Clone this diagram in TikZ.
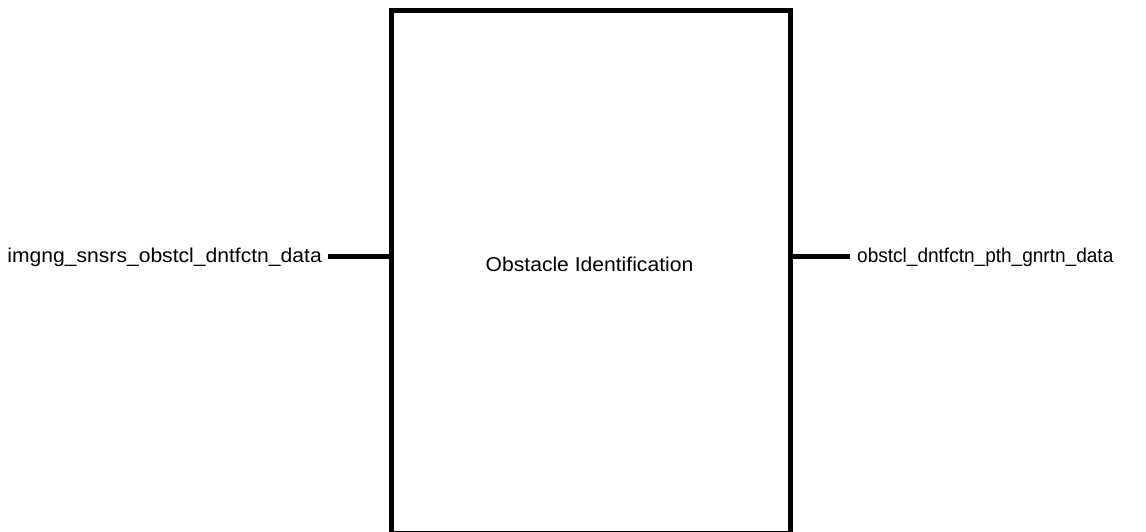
\documentclass[tikz,border=0pt]{standalone}
\usepackage{fontspec}
\setmainfont{Liberation Sans}
\begin{document}
\begin{tikzpicture}[x=1pt,y=-1pt,
  blockbox/.style={draw=black, line width=5pt, inner sep=0pt, minimum width=398.5pt, minimum height=522.5pt},
  portline/.style={draw=black, line width=5pt},
  sigtext/.style={font=\fontsize{20}{24}\selectfont, inner sep=0pt},
  titletext/.style={font=\fontsize{20}{24}\selectfont, inner sep=0pt}]
  \useasboundingbox (0,0) rectangle (1146,531);
  \clip (0,0) rectangle (1146,531);
  % function block
  \node[blockbox] (blk) at (590.75,271.75) {};
  \node[titletext, anchor=base] (ttl) at (589.5,271) {\scalebox{1.055}[1]{Obstacle Identification}};
  % ports on the block edges
  \coordinate (pin) at (391.5,256.5);
  \coordinate (pout) at (790,256.5);
  % input and output signals
  \node[sigtext, anchor=base east, inner xsep=6pt] (insig) at (328,262) {\scalebox{1.055}[1]{imgng\_snsrs\_obstcl\_dntfctn\_data}};
  \node[sigtext, anchor=base west, inner xsep=7pt] (outsig) at (850,262) {\scalebox{0.952}[1]{obstcl\_dntfctn\_pth\_gnrtn\_data}};
  \draw[portline] (insig.east |- pin) -- (pin);
  \draw[portline] (pout) -- (outsig.west |- pout);
\end{tikzpicture}
\end{document}
